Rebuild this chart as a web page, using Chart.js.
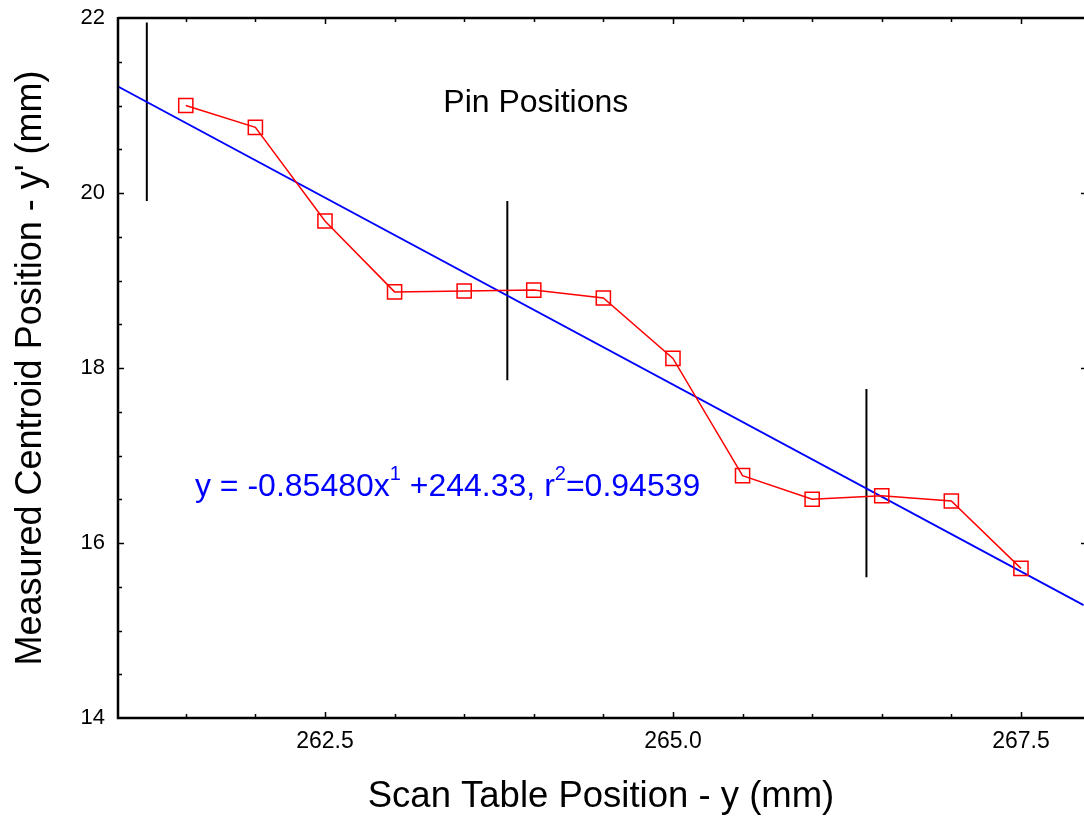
<!DOCTYPE html>
<html>
<head>
<meta charset="utf-8">
<script src="https://cdn.jsdelivr.net/npm/chart.js@4.4.0/dist/chart.umd.min.js"></script>
<style>
  html, body { margin: 0; padding: 0; background: #fff; }
  #wrap { width: 1084px; height: 821px; }
</style>
</head>
<body>
<div id="wrap"><canvas id="chart" width="1084" height="821"></canvas></div>
<script>
// measured scan points
const scanY = [261.5, 262.0, 262.5, 263.0, 263.5, 264.0, 264.5, 265.0, 265.5, 266.0, 266.5, 267.0, 267.5];
const centroidY = [21.00, 20.75, 19.68, 18.87, 18.88, 18.89, 18.80, 18.11, 16.77, 16.50, 16.54, 16.48, 15.71];

// linear fit, end points
const fitX = [261.01, 267.95];
const fitY = [21.22, 15.29];

// pin position markers (vertical bars)
const pinX = [261.22, 263.81, 266.39];
const pinTop = [21.95, 19.91, 17.76];
const pinBottom = [19.91, 17.86, 15.61];

const xLabelTicks = [262.5, 265.0, 267.5];
const yLabelTicks = [14, 16, 18, 20, 22];

let pinData = [];
pinX.forEach(function(x, i) {
  pinData.push({x: x, y: pinTop[i]}, {x: x, y: pinBottom[i]}, {x: x, y: null});
});

const FONT = "'Liberation Sans', Arial, sans-serif";

// frame + inward ticks + text labels
const decor = {
  id: 'decor',
  afterDraw(chart) {
    const ctx = chart.ctx;
    const a = chart.chartArea;
    const xs = chart.scales.x, ys = chart.scales.y;
    ctx.save();
    ctx.strokeStyle = '#000';
    ctx.lineWidth = 2.5;
    ctx.beginPath();
    ctx.moveTo(a.left, a.top); ctx.lineTo(a.right, a.top);
    ctx.moveTo(a.left, a.top - 1); ctx.lineTo(a.left, a.bottom);
    ctx.lineTo(a.right, a.bottom);
    ctx.stroke();

    ctx.lineWidth = 1.5;
    ctx.beginPath();
    for (let v = 261.5; v <= 267.6; v += 0.5) {
      const px = Math.round(xs.getPixelForValue(v)) + 0.5;
      const len = xLabelTicks.some(t => Math.abs(t - v) < 1e-6) ? 6 : 4;
      ctx.moveTo(px, a.bottom); ctx.lineTo(px, a.bottom - len);
      ctx.moveTo(px, a.top); ctx.lineTo(px, a.top + len);
    }
    for (let v = 14.5; v < 22; v += 0.5) {
      const py = Math.round(ys.getPixelForValue(v)) + 0.5;
      const major = yLabelTicks.indexOf(v) >= 0;
      ctx.moveTo(a.left, py); ctx.lineTo(a.left + (major ? 6 : 4), py);
      if (major) { ctx.moveTo(a.right, py); ctx.lineTo(a.right - 3, py); }
    }
    ctx.stroke();

    // "Pin Positions"
    ctx.fillStyle = '#000';
    ctx.textBaseline = 'alphabetic';
    ctx.textAlign = 'left';
    ctx.font = '32px ' + FONT;
    ctx.fillText('Pin Positions', xs.getPixelForValue(263.35), ys.getPixelForValue(20.926));

    // fit equation with superscripts
    const big = '32px ' + FONT, small = '20px ' + FONT;
    let ex = xs.getPixelForValue(261.566);
    const ey = ys.getPixelForValue(16.537);
    const parts = [
      ['y = -0.85480x', big, 0],
      ['1', small, -16],
      [' +244.33, r', big, 0],
      ['2', small, -16],
      ['=0.94539', big, 0]
    ];
    ctx.fillStyle = '#0000ff';
    parts.forEach(function(p) {
      ctx.font = p[1];
      ctx.fillText(p[0], ex, ey + p[2]);
      ex += ctx.measureText(p[0]).width;
    });
    ctx.restore();
  }
};

const ctx = document.getElementById('chart');
const myChart = new Chart(ctx, {
  type: 'scatter',
  data: {
    datasets: [
      {
        data: fitX.map((x, i) => ({x: x, y: fitY[i]})),
        showLine: true,
        borderColor: '#0000ff',
        borderWidth: 1.8,
        pointRadius: 0,
        order: 2
      },
      {
        data: pinData,
        showLine: true,
        spanGaps: false,
        borderColor: '#000',
        borderWidth: 2,
        pointRadius: 0,
        order: 3
      },
      {
        data: scanY.map((x, i) => ({x: x, y: centroidY[i]})),
        showLine: true,
        borderColor: '#ff0000',
        borderWidth: 1.5,
        pointStyle: 'rect',
        pointRadius: 10,
        pointBorderWidth: 1.5,
        pointBorderColor: '#ff0000',
        pointBackgroundColor: 'rgba(0,0,0,0)',
        order: 1
      }
    ]
  },
  options: {
    responsive: false,
    animation: false,
    layout: { autoPadding: false, padding: { top: 18, right: 0, bottom: 0, left: 0 } },
    plugins: { legend: { display: false }, tooltip: { enabled: false } },
    scales: {
      x: {
        type: 'linear',
        min: 261.013,
        max: 267.953,
        afterBuildTicks: s => { s.ticks = xLabelTicks.map(v => ({value: v})); },
        afterFit: s => { s.height = 103; s.paddingLeft = 0; s.paddingRight = 0; },
        grid: { display: false, drawTicks: false },
        border: { display: false },
        ticks: {
          color: '#000',
          padding: 10,
          maxRotation: 0,
          font: { family: FONT, size: 23 },
          callback: v => v.toFixed(1)
        },
        title: {
          display: true,
          text: 'Scan Table Position - y (mm)',
          color: '#000',
          font: { family: FONT, size: 36.5 },
          padding: { top: 0, bottom: 2 }
        }
      },
      y: {
        type: 'linear',
        min: 14,
        max: 22,
        afterBuildTicks: s => { s.ticks = yLabelTicks.map(v => ({value: v})); },
        afterFit: s => { s.width = 118; s.paddingTop = 0; s.paddingBottom = 0; },
        grid: { display: false, drawTicks: false },
        border: { display: false },
        ticks: {
          color: '#000',
          padding: 13,
          font: { family: FONT, size: 22 }
        },
        title: {
          display: true,
          text: "Measured Centroid Position - y' (mm)",
          color: '#000',
          font: { family: FONT, size: 36 },
          padding: { top: 9, bottom: 0 }
        }
      }
    }
  },
  plugins: [decor]
});
</script>
</body>
</html>
